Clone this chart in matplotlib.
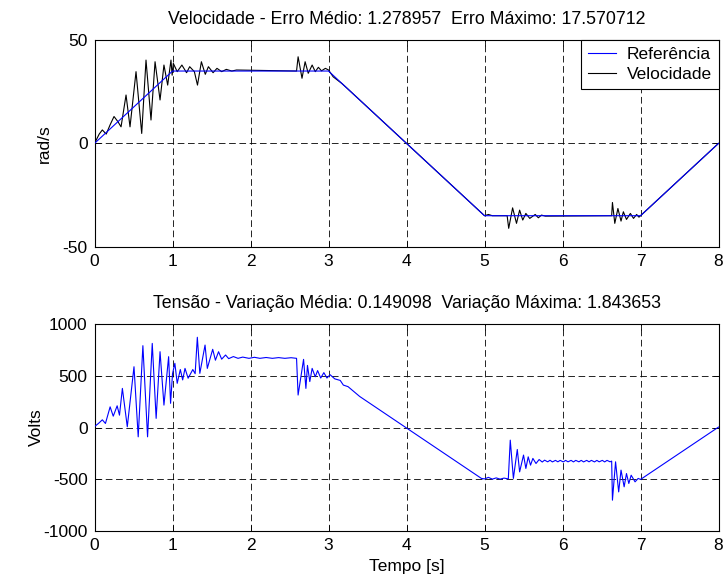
import matplotlib
matplotlib.use("Agg")
import matplotlib.pyplot as plt

plt.rcParams['font.family'] = ['Liberation Sans', 'DejaVu Sans']
plt.rcParams['font.size'] = 12.5
plt.rcParams['lines.scale_dashes'] = False
plt.rcParams['axes.unicode_minus'] = False

# ---------------- data ----------------
t_ref = [0, 1, 3, 5, 7, 8]
ref = [0, 35, 35, -35, -35, 0]

t_vel = [0.0, 0.06, 0.10, 0.15, 0.20, 0.25, 0.30, 0.34, 0.404, 0.455, 0.532, 0.605,
         0.66, 0.724, 0.776, 0.84, 0.89, 0.938, 0.98, 0.995, 1.01, 1.06, 1.12, 1.18,
         1.22, 1.28, 1.32, 1.37, 1.42, 1.46, 1.52, 1.57, 1.63, 1.69, 1.76, 1.82,
         2.59, 2.61, 2.66, 2.70, 2.74, 2.79, 2.83, 2.87, 2.91, 2.96, 3.0, 3.06, 3.17,
         3.24, 5.0, 5.05, 5.1, 5.29, 5.31, 5.36, 5.41, 5.45, 5.49, 5.53, 5.58, 5.65,
         5.69, 5.73, 5.78, 6.63, 6.64, 6.67, 6.71, 6.75, 6.78, 6.82, 6.87, 6.91, 6.95,
         6.98, 7.0, 8.0]
vel = [0.0, 4.5, 6.5, 4.5, 9.0, 13.0, 10.5, 8.0, 23.4, 8.0, 34.7, 4.8,
       40.3, 11.3, 39.5, 21.0, 37.9, 28.2, 40.3, 33.0, 38.7, 34.7, 37.9, 34.2,
       37.1, 34.7, 28.2, 39.5, 33.4, 37.1, 34.2, 36.3, 34.7, 35.8, 35.0, 35.5,
       35.0, 41.9, 31.5, 39.5, 33.9, 37.9, 34.7, 36.8, 35.1, 36.3, 35.5, 32.2, 29.0,
       26.6, -35.0, -34.4, -35.0, -35.0, -41.1, -31.2, -38.7, -32.3, -37.1, -33.9, -36.3, -34.4,
       -36.0, -34.7, -35.2, -35.0, -28.6, -38.7, -31.5, -37.6, -33.1, -36.8, -33.9, -36.3, -34.4,
       -35.7, -35.0, 0.0]

t_volt = [0.0, 0.05, 0.10, 0.14, 0.20, 0.24, 0.29, 0.32, 0.357, 0.42, 0.506, 0.56,
          0.62, 0.68, 0.74, 0.79, 0.84, 0.89, 0.95, 0.975, 1.0, 1.03, 1.06, 1.10,
          1.13, 1.16, 1.20, 1.26, 1.29, 1.318, 1.35, 1.417, 1.446, 1.515, 1.55, 1.59,
          1.63, 1.68, 1.72, 1.78, 1.84, 1.90, 1.98, 2.05, 2.12, 2.20, 2.28, 2.36,
          2.44, 2.52, 2.59, 2.61, 2.68, 2.71, 2.73, 2.76, 2.79, 2.83, 2.86, 2.90,
          2.94, 2.98, 3.02, 3.08, 3.15, 3.19, 3.25, 3.40, 4.96, 5.0, 5.05, 5.10,
          5.15, 5.20, 5.25, 5.305, 5.33, 5.37, 5.42, 5.45, 5.50, 5.53, 5.56, 5.59,
          5.62, 5.66, 5.70, 5.74, 5.77, 5.81, 5.84, 5.87, 5.91, 5.94, 5.97, 6.01,
          6.04, 6.07, 6.11, 6.14, 6.17, 6.21, 6.24, 6.27, 6.31, 6.34, 6.37, 6.41,
          6.44, 6.47, 6.51, 6.54, 6.57, 6.61, 6.63, 6.64, 6.68, 6.72, 6.75, 6.79,
          6.82, 6.85, 6.88, 6.93, 6.97, 7.0, 8.0]
volt = [10, 40, 75, 40, 200, 110, 210, 120, 378, 8, 587, -89,
        790, -89, 812, 89, 732, 217, 684, 234, 520, 620, 427, 560,
        460, 571, 476, 560, 520, 871, 523, 796, 571, 755, 650, 732,
        660, 700, 665, 685, 668, 680, 668, 678, 668, 676, 668, 675,
        668, 674, 668, 314, 658, 378, 600, 444, 571, 490, 550, 478,
        530, 478, 510, 470, 455, 410, 395, 300, -490, -495, -480, -497,
        -485, -497, -487, -495, -121, -490, -211, -427, -265, -394, -282, -362,
        -297, -346, -308, -332, -314, -330, -315, -331, -316, -330, -316, -331,
        -316, -330, -316, -331, -316, -330, -316, -331, -316, -330, -316, -331,
        -316, -330, -316, -331, -316, -330, -323, -700, -330, -620, -410, -571,
        -443, -539, -459, -523, -490, -500, 5]

top_title = 'Velocidade - Erro Médio: 1.278957  Erro Máximo: 17.570712'
bot_title = 'Tensão - Variação Média: 0.149098  Variação Máxima: 1.843653'
x_ticks = [0, 1, 2, 3, 4, 5, 6, 7, 8]
top_yticks = [-50, 0, 50]
bot_yticks = [-1000, -500, 0, 500, 1000]

# ---------------- figure ----------------
fig = plt.figure(figsize=(7.26, 5.87), dpi=100)
ax1 = fig.add_axes([0.1302, 0.5797, 0.8595, 0.3521])
ax2 = fig.add_axes([0.1302, 0.0949, 0.8595, 0.3533])

for ax in (ax1, ax2):
    ax.set_xlim(0, 8)
    ax.set_xticks(x_ticks)
    ax.grid(True, color='black', linestyle=(0, (4.8, 2.6)), linewidth=0.6)
    ax.tick_params(direction='in', top=True, right=True, length=4, width=0.6,
                   labelsize=12.5, pad=5)
    for s in ax.spines.values():
        s.set_linewidth(0.8)
    ax.set_axisbelow(True)

ax1.plot(t_vel, vel, color='black', linewidth=0.8, zorder=3, label='Velocidade')
ax1.plot(t_ref, ref, color='blue', linewidth=0.8, zorder=4, label='Referência')
ax1.set_ylim(-50, 50)
ax1.set_yticks(top_yticks)
ax1.set_ylabel('rad/s')
ax1.yaxis.set_label_coords(-0.068, 0.5)
ax1.set_title(top_title, fontsize=12.8, pad=11.5)
h, l = ax1.get_legend_handles_labels()
leg = ax1.legend([h[1], h[0]], [l[1], l[0]], loc='upper right', borderaxespad=0,
                 fancybox=False, edgecolor='black', framealpha=1, fontsize=12.5,
                 handlelength=1.6, handletextpad=0.6, borderpad=0.4, labelspacing=0.25)
leg.get_frame().set_linewidth(0.8)

ax2.plot(t_volt, volt, color='blue', linewidth=0.8, zorder=3)
ax2.set_ylim(-1000, 1000)
ax2.set_yticks(bot_yticks)
ax2.set_ylabel('Volts')
ax2.yaxis.set_label_coords(-0.0817, 0.5)
ax2.set_xlabel('Tempo [s]', labelpad=4)
ax2.set_title(bot_title, fontsize=12.8, pad=11.5)

fig.savefig('out.png', dpi=100)
